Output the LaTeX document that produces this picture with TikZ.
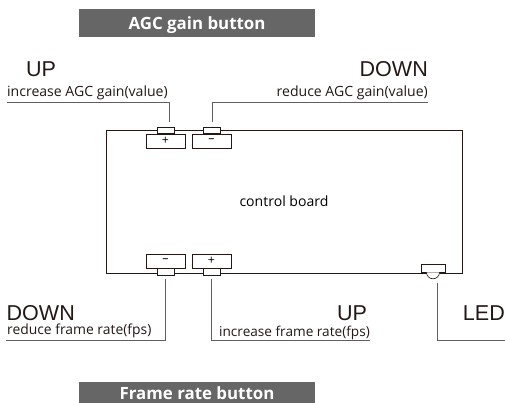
\documentclass[tikz,border=0pt]{standalone}
\usepackage{fontspec}
\setmainfont{Open Sans}
\newfontfamily\headfont{Liberation Sans}
\usetikzlibrary{positioning}
\definecolor{inkdark}{HTML}{231815}
\definecolor{bargray}{HTML}{666666}
\definecolor{leadgray}{HTML}{5F5F5F}

\begin{document}
\begin{tikzpicture}[
    font=\fontsize{16}{18}\selectfont,
    bar/.style={rectangle, fill=bargray, minimum width=9.44cm, inner sep=0pt},
    bartext/.style={anchor=base, inner sep=0pt, text=white, font=\fontsize{19.2}{21}\selectfont\bfseries},
    board/.style={rectangle, draw=inkdark, line width=0.8pt, fill=white, minimum width=14.24cm, minimum height=5.72cm, inner sep=0pt},
    btn/.style={rectangle, draw=inkdark, line width=0.7pt, fill=white, minimum width=1.56cm, minimum height=0.56cm, inner sep=0pt, font=\fontsize{14}{14}\selectfont},
    tab/.style={rectangle, draw=inkdark, line width=0.7pt, fill=white, minimum width=0.68cm, minimum height=0.25cm, inner sep=0pt},
    head/.style={inner sep=0pt, text=inkdark, font=\fontsize{24.5}{26}\headfont},
    note/.style={inner sep=0pt, text=inkdark},
    lead/.style={draw=leadgray, line width=0.9pt}
]
\useasboundingbox (0,0) rectangle (20.2,16.12);

% Title bars
\node[bar, minimum height=1.12cm] (agcbar) at (7.88,15.2) {};
\node[bartext] (agctitle) at (7.88,14.92) {AGC gain button};
\node[bar, minimum height=0.84cm, anchor=south] (fpsbar) at (7.88,0) {};
\node[bartext] (fpstitle) at (7.88,0.14) {Frame rate button};

% Control board
\node[board] (ctrl) at (11.36,8.06) {control board};

% LED
\node[tab, minimum width=0.96cm, minimum height=0.32cm] (ledtab) at (17.32,5.4) {};
\fill[white, draw=inkdark, line width=0.7pt] (ledtab.south) ++(-0.26,0) arc[start angle=180, end angle=360, radius=0.26];

% Top buttons
\node[btn] (agcplus) at (6.62,10.48) {+};
\node[btn] (agcminus) at (8.46,10.48) {--};
\node[tab, above=0pt of agcplus] (agcplustab) {};
\node[tab, above=0pt of agcminus] (agcminustab) {};

% Bottom buttons
\node[btn] (fpsminus) at (6.62,5.68) {--};
\node[btn] (fpsplus) at (8.46,5.68) {+};
\node[tab, below=0pt of fpsminus] (fpsminustab) {};
\node[tab, below=0pt of fpsplus] (fpsplustab) {};

% Big labels
\node[head, anchor=base west] (upagc) at (1.04,13.06) {UP};
\node[head, anchor=base east] (downagc) at (17.12,13.06) {DOWN};
\node[head, anchor=base west] (downfps) at (0.26,3.28) {DOWN};
\node[head, anchor=base west] (upfps) at (13.48,3.28) {UP};
\node[head, anchor=base east] (ledlabel) at (20.2,3.28) {LED};

% Small labels
\node[note, anchor=base west] (incagc) at (0.28,12.24) {increase AGC gain(value)};
\node[note, anchor=base east] (redagc) at (17.12,12.24) {reduce AGC gain(value)};
\node[note, anchor=base west, font=\fontsize{15.8}{17}\selectfont] (redfps) at (0.28,2.72) {reduce frame rate(fps)};
\node[note, anchor=base west, font=\fontsize{15.5}{17}\selectfont] (incfps) at (8.76,2.64) {increase frame rate(fps)};

% Free ends of the leaders
\coordinate (incend) at (0.28,12.02);
\coordinate (redend) at (17.12,12.02);
\coordinate (fpsdownend) at (0.24,2.52);
\coordinate (fpsupend) at (14.8,2.52);
\coordinate (ledend) at (20.2,2.52);

% Leaders
\draw[lead] (incend) -| ([shift={(0.14,0.2)}]agcplustab.north);
\draw[lead] (redend) -| ([shift={(0.02,0.2)}]agcminustab.north);
\draw[lead] (fpsdownend) -| ([shift={(0,-0.16)}]fpsminustab.south);
\draw[lead] (fpsupend) -| ([shift={(-0.02,-0.16)}]fpsplustab.south);
\draw[lead] (ledend) -| ([shift={(0.16,-0.42)}]ledtab.south);

\end{tikzpicture}
\end{document}
